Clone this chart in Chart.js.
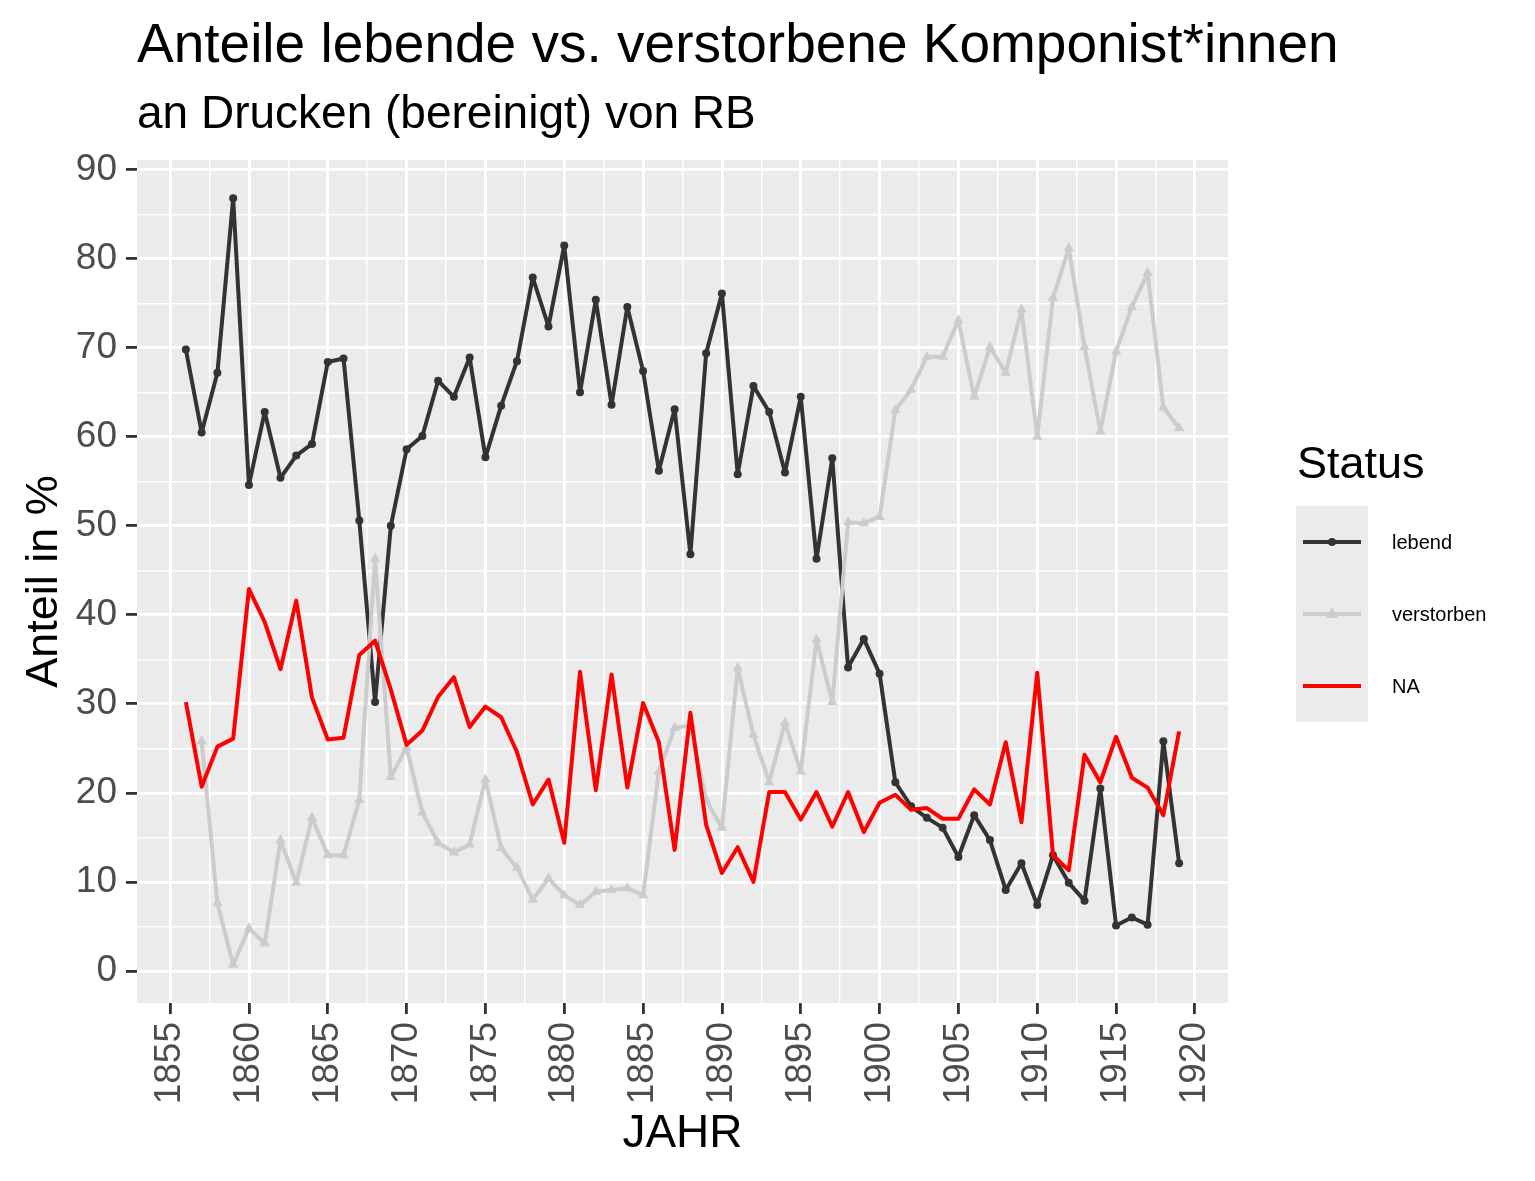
<!DOCTYPE html>
<html lang="de">
<head>
<meta charset="utf-8">
<title>Anteile lebende vs. verstorbene Komponist*innen</title>
<script src="https://cdn.jsdelivr.net/npm/chart.js@4.4.1/dist/chart.umd.min.js"></script>
<style>
  html, body { margin: 0; padding: 0; background: #fff; }
  body { width: 1535px; height: 1181px; position: relative; overflow: hidden; font-family: "Liberation Sans", Arial, sans-serif; }
  #plot { position: absolute; left: 0; top: 0; }
  .txt { position: absolute; white-space: nowrap; line-height: 1; color: #000; }
  #title { left: 137px; top: 16px; font-size: 55px; }
  #subtitle { left: 137px; top: 89px; font-size: 46px; }
  #legendTitle { left: 1297px; top: 440px; font-size: 45px; }
  #legend { position: absolute; left: 1296px; top: 506px; }
  .key { position: relative; height: 72px; width: 300px; }
  .key svg { position: absolute; left: 0; top: 0; background: #EBEBEB; }
  .key span { position: absolute; left: 96px; top: 0; line-height: 72px; font-size: 20px; color: #000; }
</style>
</head>
<body>
<canvas id="plot" width="1535" height="1181"></canvas>
<div class="txt" id="title">Anteile lebende vs. verstorbene Komponist*innen</div>
<div class="txt" id="subtitle">an Drucken (bereinigt) von RB</div>
<div class="txt" id="legendTitle">Status</div>
<div id="legend"></div>

<script>
// Daten
const years = [1856, 1857, 1858, 1859, 1860, 1861, 1862, 1863, 1864, 1865,
    1866, 1867, 1868, 1869, 1870, 1871, 1872, 1873, 1874, 1875,
    1876, 1877, 1878, 1879, 1880, 1881, 1882, 1883, 1884, 1885,
    1886, 1887, 1888, 1889, 1890, 1891, 1892, 1893, 1894, 1895,
    1896, 1897, 1898, 1899, 1900, 1901, 1902, 1903, 1904, 1905,
    1906, 1907, 1908, 1909, 1910, 1911, 1912, 1913, 1914, 1915,
    1916, 1917, 1918, 1919];

const lebend = [69.8, 60.5, 67.2, 86.8, 54.6, 62.8, 55.4, 57.9, 59.2, 68.4,
    68.8, 50.6, 30.2, 50.0, 58.6, 60.1, 66.3, 64.5, 68.9, 57.7,
    63.5, 68.5, 77.9, 72.4, 81.5, 65.0, 75.4, 63.6, 74.6, 67.4,
    56.2, 63.1, 46.8, 69.4, 76.1, 55.8, 65.7, 62.8, 56.0, 64.5,
    46.3, 57.6, 34.1, 37.3, 33.4, 21.2, 18.5, 17.2, 16.1, 12.8,
    17.5, 14.7, 9.1, 12.1, 7.4, 13.0, 9.9, 7.9, 20.5, 5.1,
    6.0, 5.2, 25.8, 12.1];

const verstorben = [null, 25.8, 7.6, 0.7, 4.8, 3.1, 14.7, 9.9, 17.2, 13.0,
    13.0, 19.2, 46.3, 21.8, 25.1, 17.8, 14.4, 13.3, 14.2, 21.5,
    13.8, 11.6, 8.0, 10.4, 8.5, 7.4, 8.9, 9.1, 9.3, 8.5,
    22.4, 27.3, 27.6, 19.2, 16.1, 34.0, 26.5, 21.2, 27.9, 22.4,
    37.2, 30.2, 50.4, 50.3, 51.0, 63.0, 65.3, 69.0, 69.0, 73.1,
    64.5, 70.1, 67.2, 74.3, 60.0, 75.6, 81.2, 70.1, 60.6, 69.6,
    74.6, 78.4, 63.3, 61.0];

const naAnteil = [30.2, 20.7, 25.2, 26.1, 42.9, 39.2, 33.9, 41.6, 30.7, 26.0,
    26.2, 35.5, 37.1, 31.6, 25.4, 27.0, 30.8, 33.0, 27.4, 29.7,
    28.5, 24.6, 18.7, 21.5, 14.4, 33.6, 20.3, 33.3, 20.6, 30.1,
    25.7, 13.6, 29.0, 16.4, 11.0, 13.9, 10.0, 20.1, 20.1, 17.0,
    20.1, 16.2, 20.1, 15.6, 18.9, 19.8, 18.1, 18.3, 17.1, 17.1,
    20.4, 18.7, 25.7, 16.7, 33.5, 13.0, 11.3, 24.3, 21.2, 26.3,
    21.7, 20.6, 17.5, 26.9];

// Achsen: Haupt- und Nebenlinien
const xTicks = [1855, 1857.5, 1860, 1862.5, 1865, 1867.5, 1870, 1872.5, 1875, 1877.5,
    1880, 1882.5, 1885, 1887.5, 1890, 1892.5, 1895, 1897.5, 1900, 1902.5,
    1905, 1907.5, 1910, 1912.5, 1915, 1917.5, 1920];
const yTicks = [0, 5, 10, 15, 20, 25, 30, 35, 40, 45, 50, 55, 60, 65, 70, 75, 80, 85, 90];

const series = [
    { label: 'lebend', data: lebend, color: '#333333', point: 'circle', radius: 4, order: 3 },
    { label: 'verstorben', data: verstorben, color: '#CCCCCC', point: 'triangle', radius: 6, order: 2 },
    { label: 'NA', data: naAnteil, color: '#FF0000', point: false, radius: 0, order: 1 }
];

const FONT = '"Liberation Sans", Arial, sans-serif';

function toPoints(values) {
    return years.map((y, i) => ({ x: y, y: values[i] }));
}

// grauer Panel-Hintergrund wie bei ggplot
const panelBg = {
    id: 'panelBg',
    beforeDraw(chart) {
        const a = chart.chartArea;
        const c = chart.ctx;
        c.save();
        c.fillStyle = '#EBEBEB';
        c.fillRect(a.left, a.top, a.right - a.left, a.bottom - a.top);
        c.restore();
    }
};

function gridFor(isMajor) {
    return {
        color: '#FFFFFF',
        lineWidth: c => (c.tick && isMajor(c.tick.value)) ? 2.8 : 1.4,
        drawTicks: true,
        tickLength: 11,
        tickWidth: 2.8,
        tickColor: c => (c.tick && isMajor(c.tick.value)) ? '#333333' : 'rgba(0,0,0,0)'
    };
}

const xMajor = v => v % 5 === 0;
const yMajor = v => v % 10 === 0;

new Chart(document.getElementById('plot'), {
    type: 'line',
    data: {
        datasets: series.map(s => ({
            label: s.label,
            data: toPoints(s.data),
            borderColor: s.color,
            backgroundColor: s.color,
            borderWidth: 4,
            borderJoinStyle: 'round',
            borderCapStyle: 'butt',
            pointStyle: s.point,
            pointRadius: s.radius,
            pointBorderWidth: 0,
            pointHoverRadius: s.radius,
            tension: 0,
            fill: false,
            order: s.order
        }))
    },
    options: {
        responsive: false,
        animation: false,
        devicePixelRatio: 1,
        layout: { padding: { top: 160, right: 307, bottom: 0, left: 0 } },
        plugins: {
            legend: { display: false },
            tooltip: { enabled: false }
        },
        scales: {
            x: {
                type: 'linear',
                min: 1852.9,
                max: 1922.1,
                afterBuildTicks: axis => { axis.ticks = xTicks.map(v => ({ value: v })); },
                afterFit: axis => { axis.height = 178; },
                border: { display: false },
                grid: gridFor(xMajor),
                ticks: {
                    autoSkip: false,
                    minRotation: 90,
                    maxRotation: 90,
                    padding: 8,
                    color: '#4D4D4D',
                    font: { family: FONT, size: 37 },
                    callback: v => xMajor(v) ? String(v) : ''
                },
                title: {
                    display: true,
                    text: 'JAHR',
                    color: '#000000',
                    font: { family: FONT, size: 46 },
                    padding: { top: 0, bottom: 19 }
                }
            },
            y: {
                min: -3.6,
                max: 91.1,
                afterBuildTicks: axis => { axis.ticks = yTicks.map(v => ({ value: v })); },
                afterFit: axis => { axis.width = 137; },
                border: { display: false },
                grid: gridFor(yMajor),
                ticks: {
                    autoSkip: false,
                    padding: 9,
                    color: '#4D4D4D',
                    font: { family: FONT, size: 37 },
                    callback: v => yMajor(v) ? String(v) : ''
                },
                title: {
                    display: true,
                    text: 'Anteil in %',
                    color: '#000000',
                    font: { family: FONT, size: 45 },
                    padding: { top: 18, bottom: 0 }
                }
            }
        }
    },
    plugins: [panelBg]
});

// Legende (Status)
const legend = document.getElementById('legend');
series.forEach(s => {
    const row = document.createElement('div');
    row.className = 'key';
    let marker = '';
    if (s.point === 'circle') {
        marker = '<circle cx="36" cy="36" r="4" fill="' + s.color + '"/>';
    } else if (s.point === 'triangle') {
        marker = '<polygon points="36,29 42,40 30,40" fill="' + s.color + '"/>';
    }
    row.innerHTML = '<svg width="72" height="72" viewBox="0 0 72 72">' +
        '<line x1="7" y1="36" x2="65" y2="36" stroke="' + s.color + '" stroke-width="4"/>' +
        marker + '</svg><span>' + s.label + '</span>';
    legend.appendChild(row);
});
</script>
</body>
</html>
